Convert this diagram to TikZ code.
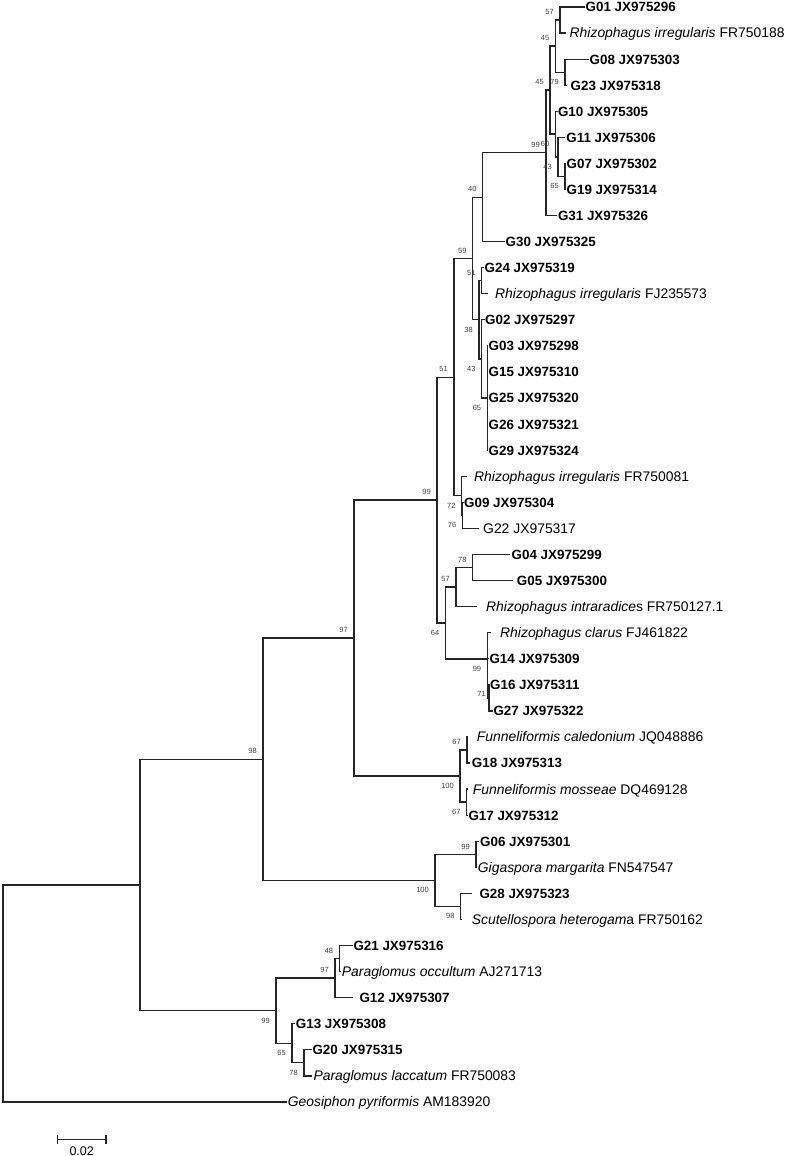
\documentclass[tikz,border=0pt]{standalone}
\usepackage{fontspec}
\setmainfont{Liberation Sans}
\newcommand\leaffont{\fontsize{13.9}{15}\selectfont}
\newcommand\bsfont{\fontsize{7.5}{8}\selectfont}
\newcommand\sbfont{\fontsize{12.5}{14}\selectfont}
\newcommand\bl[1]{{\fontsize{13.4}{15}\selectfont\bfseries #1}}
\begin{document}
\begin{tikzpicture}[x=1pt,y=-1pt,
  br/.style={line width=1.25pt, draw=black!85},
  lf/.style={anchor=base west, inner sep=0pt, yshift=-4.9pt, font=\leaffont},
  bs/.style={inner sep=0pt, font=\bsfont, text=black!75},
  bu/.style={bs, anchor=south east, shift={(-6,-5)}},
  bl/.style={bs, anchor=north east, shift={(-6,7)}}]
\useasboundingbox (0,0) rectangle (786,1156);
% internal nodes
\coordinate (n57) at (560,20.04);
\coordinate (n79) at (565,72.18);
\coordinate (n45a) at (555.5,46.11);
\coordinate (n65a) at (565,176.46);
\coordinate (n43a) at (558,156.9);
\coordinate (n60) at (555.5,134.1);
\coordinate (n45b) at (550,90.1);
\coordinate (n99a) at (546,152.8);
\coordinate (n40) at (482.7,197.2);
\coordinate (n51b) at (481.7,280.7);
\coordinate (n65b) at (487.3,398.05);
\coordinate (n43b) at (481.7,358.9);
\coordinate (n38) at (479,319.8);
\coordinate (n59) at (472.7,258.5);
\coordinate (n76) at (462.5,515.4);
\coordinate (n72) at (461.7,495.8);
\coordinate (n51) at (454,377.2);
\coordinate (n78) at (472.7,567.5);
\coordinate (n57b) at (456,587.1);
\coordinate (n71) at (489,697.9);
\coordinate (n99c) at (487.3,659);
\coordinate (n64) at (445.5,623);
\coordinate (n99b) at (437,500.1);
\coordinate (n67a) at (467,750);
\coordinate (n67b) at (466.7,802.1);
\coordinate (n100a) at (460,776.1);
\coordinate (n97b) at (354,638.1);
\coordinate (n99d) at (476,854.3);
\coordinate (n98b) at (460.7,906.4);
\coordinate (n100b) at (435,880.4);
\coordinate (n98) at (263,759.2);
\coordinate (n48) at (339.3,958.6);
\coordinate (n97c) at (335,978.1);
\coordinate (n78c) at (304,1062.8);
\coordinate (n65c) at (292,1043.3);
\coordinate (nP) at (276,1010.7);
\coordinate (nR2) at (140,885);
\coordinate (root) at (3,993.5);
% leaf ends
\coordinate (l0) at (585,7.0);
\coordinate (l1) at (565.5,33.07);
\coordinate (l2) at (589,59.14);
\coordinate (l3) at (566.5,85.21);
\coordinate (l4) at (557.5,111.28);
\coordinate (l5) at (565,137.35);
\coordinate (l6) at (566,163.42);
\coordinate (l7) at (566,189.49);
\coordinate (l8) at (556.5,215.56);
\coordinate (l9) at (505,241.63);
\coordinate (l10) at (484,267.7);
\coordinate (l11) at (488,293.77);
\coordinate (l12) at (484.5,319.84);
\coordinate (l13) at (488,345.91);
\coordinate (l14) at (488,371.98);
\coordinate (l15) at (488,398.05);
\coordinate (l16) at (488,424.12);
\coordinate (l17) at (488,450.19);
\coordinate (l18) at (466.7,476.26);
\coordinate (l19) at (463.5,502.33);
\coordinate (l20) at (478.5,528.4);
\coordinate (l21) at (510,554.47);
\coordinate (l22) at (513,580.54);
\coordinate (l23) at (476.7,606.61);
\coordinate (l24) at (491,632.68);
\coordinate (l25) at (488.5,658.75);
\coordinate (l26) at (489.5,684.82);
\coordinate (l27) at (492.5,710.89);
\coordinate (l28) at (468,736.96);
\coordinate (l29) at (470,763.03);
\coordinate (l30) at (468,789.1);
\coordinate (l31) at (467.5,815.17);
\coordinate (l32) at (479,841.24);
\coordinate (l33) at (477,867.31);
\coordinate (l34) at (471.7,893.38);
\coordinate (l35) at (462,919.45);
\coordinate (l36) at (352.5,945.52);
\coordinate (l37) at (341,971.59);
\coordinate (l38) at (353.3,997.66);
\coordinate (l39) at (295,1023.73);
\coordinate (l40) at (311.5,1049.8);
\coordinate (l41) at (312,1075.87);
\coordinate (l42) at (287,1101.94);
% branches
\foreach \p/\c in {root/nR2, root/l42, nR2/n98, nR2/nP, n98/n97b, n98/n100b,
  n97b/n99b, n97b/n100a, n99b/n51, n99b/n64, n51/n59, n51/n72, n59/n40, n59/n38,
  n40/n99a, n40/l9, n99a/n45b, n99a/l8, n45b/n45a, n45b/n60, n45a/n57, n45a/n79,
  n57/l0, n57/l1, n79/l2, n79/l3, n60/l4, n60/n43a, n43a/l5, n43a/n65a, n65a/l6, n65a/l7,
  n38/n51b, n38/n43b, n51b/l10, n51b/l11, n43b/l12, n43b/n65b,
  n65b/l13, n65b/l14, n65b/l15, n65b/l16, n65b/l17,
  n72/l18, n72/n76, n76/l19, n76/l20, n64/n57b, n64/n99c, n57b/n78, n57b/l23,
  n78/l21, n78/l22, n99c/l24, n99c/l25, n99c/n71, n71/l26, n71/l27,
  n100a/n67a, n100a/n67b, n67a/l28, n67a/l29, n67b/l30, n67b/l31,
  n100b/n99d, n100b/n98b, n99d/l32, n99d/l33, n98b/l34, n98b/l35,
  nP/n97c, nP/n65c, n97c/n48, n97c/l38, n48/l36, n48/l37, n65c/l39, n65c/n78c,
  n78c/l40, n78c/l41}
  \draw[br] (\p) |- (\c);
% leaf labels
\node[lf] (t0) at (585.5,7.0) {\bl{G01 JX975296}};
\node[lf] (t1) at (569.5,33.07) {\textit{Rhizophagus irregularis} FR750188};
\node[lf] (t2) at (589.5,59.14) {\bl{G08 JX975303}};
\node[lf] (t3) at (570.5,85.21) {\bl{G23 JX975318}};
\node[lf] (t4) at (557.8,111.28) {\bl{G10 JX975305}};
\node[lf] (t5) at (566.2,137.35) {\bl{G11 JX975306}};
\node[lf] (t6) at (566.5,163.42) {\bl{G07 JX975302}};
\node[lf] (t7) at (566.5,189.49) {\bl{G19 JX975314}};
\node[lf] (t8) at (557.8,215.56) {\bl{G31 JX975326}};
\node[lf] (t9) at (505.5,241.63) {\bl{G30 JX975325}};
\node[lf] (t10) at (484.5,267.7) {\bl{G24 JX975319}};
\node[lf] (t11) at (495,293.77) {\textit{Rhizophagus irregularis} FJ235573};
\node[lf] (t12) at (485,319.84) {\bl{G02 JX975297}};
\node[lf] (t13) at (488.5,345.91) {\bl{G03 JX975298}};
\node[lf] (t14) at (488.5,371.98) {\bl{G15 JX975310}};
\node[lf] (t15) at (488.5,398.05) {\bl{G25 JX975320}};
\node[lf] (t16) at (488.5,424.12) {\bl{G26 JX975321}};
\node[lf] (t17) at (488.5,450.19) {\bl{G29 JX975324}};
\node[lf] (t18) at (474,476.26) {\textit{Rhizophagus irregularis} FR750081};
\node[lf] (t19) at (464,502.33) {\bl{G09 JX975304}};
\node[lf] (t20) at (483,528.4) {G22 JX975317};
\node[lf] (t21) at (511.5,554.47) {\bl{G04 JX975299}};
\node[lf] (t22) at (516.7,580.54) {\bl{G05 JX975300}};
\node[lf] (t23) at (486,606.61) {\textit{Rhizophagus intraradice}s FR750127.1};
\node[lf] (t24) at (500,632.68) {\textit{Rhizophagus clarus} FJ461822};
\node[lf] (t25) at (489.3,658.75) {\bl{G14 JX975309}};
\node[lf] (t26) at (490,684.82) {\bl{G16 JX975311}};
\node[lf] (t27) at (493.3,710.89) {\bl{G27 JX975322}};
\node[lf] (t28) at (476.7,736.96) {\textit{Funneliformis caledonium} JQ048886};
\node[lf] (t29) at (471.7,763.03) {\bl{G18 JX975313}};
\node[lf] (t30) at (472.7,789.1) {\textit{Funneliformis mosseae} DQ469128};
\node[lf] (t31) at (468.3,815.17) {\bl{G17 JX975312}};
\node[lf] (t32) at (480,841.24) {\bl{G06 JX975301}};
\node[lf] (t33) at (477.7,867.31) {\textit{Gigaspora margarita} FN547547};
\node[lf] (t34) at (479.3,893.38) {\bl{G28 JX975323}};
\node[lf] (t35) at (471.7,919.45) {\textit{Scutellospora heterogam}a FR750162};
\node[lf] (t36) at (353.3,945.52) {\bl{G21 JX975316}};
\node[lf] (t37) at (341.7,971.59) {\textit{Paraglomus occultum} AJ271713};
\node[lf] (t38) at (359.3,997.66) {\bl{G12 JX975307}};
\node[lf] (t39) at (295.7,1023.73) {\bl{G13 JX975308}};
\node[lf] (t40) at (312.3,1049.8) {\bl{G20 JX975315}};
\node[lf] (t41) at (313.3,1075.87) {\textit{Paraglomus laccatum} FR750083};
\node[lf] (t42) at (287.7,1101.94) {\textit{Geosiphon pyriformis} AM183920};
% bootstrap values
\node[bu] (b57) at (n57) {57};
\node[bu] (b45a) at (n45a) {45};
\node[bl] (b79) at (n79) {79};
\node[bu] (b45b) at (n45b) {45};
\node[bu] (b99a) at (n99a) {99};
\node[bl] (b60) at (n60) {60};
\node[bl] (b43a) at (n43a) {43};
\node[bl] (b65a) at (n65a) {65};
\node[bu] (b40) at (n40) {40};
\node[bu] (b59) at (n59) {59};
\node[bu] (b51b) at (n51b) {51};
\node[bl] (b38) at (n38) {38};
\node[bl] (b43b) at (n43b) {43};
\node[bl] (b65b) at (n65b) {65};
\node[bu] (b51) at (n51) {51};
\node[bu] (b99b) at (n99b) {99};
\node[bl] (b72) at (n72) {72};
\node[bl] (b76) at (n76) {76};
\node[bl] (b64) at (n64) {64};
\node[bu] (b57b) at (n57b) {57};
\node[bu] (b78) at (n78) {78};
\node[bl] (b99c) at (n99c) {99};
\node[bs, anchor=east, shift={(-3,-3.6)}] (b71) at (n71) {71};
\node[bl] (b100a) at (n100a) {100};
\node[bu] (b67a) at (n67a) {67};
\node[bl] (b67b) at (n67b) {67};
\node[bu] (b97b) at (n97b) {97};
\node[bu] (b98) at (n98) {98};
\node[bl] (b100b) at (n100b) {100};
\node[bu] (b99d) at (n99d) {99};
\node[bl] (b98b) at (n98b) {98};
\node[bu] (b48) at (n48) {48};
\node[bu] (b97c) at (n97c) {97};
\node[bl] (b99p) at (nP) {99};
\node[bl] (b65c) at (n65c) {65};
\node[bl] (b78c) at (n78c) {78};
% scale bar
\coordinate (sb1) at (57.3,1139.3);
\coordinate (sb2) at (106,1139.3);
\draw[br] (sb1) -- (sb2);
\draw[br] ([shift={(0,-4.5)}]sb1) -- ([shift={(0,4.5)}]sb1);
\draw[br] ([shift={(0,-4.5)}]sb2) -- ([shift={(0,4.5)}]sb2);
\node[anchor=base, inner sep=0pt, font=\sbfont] (sbl) at (81.7,1155.6) {0.02};
\end{tikzpicture}
\end{document}
